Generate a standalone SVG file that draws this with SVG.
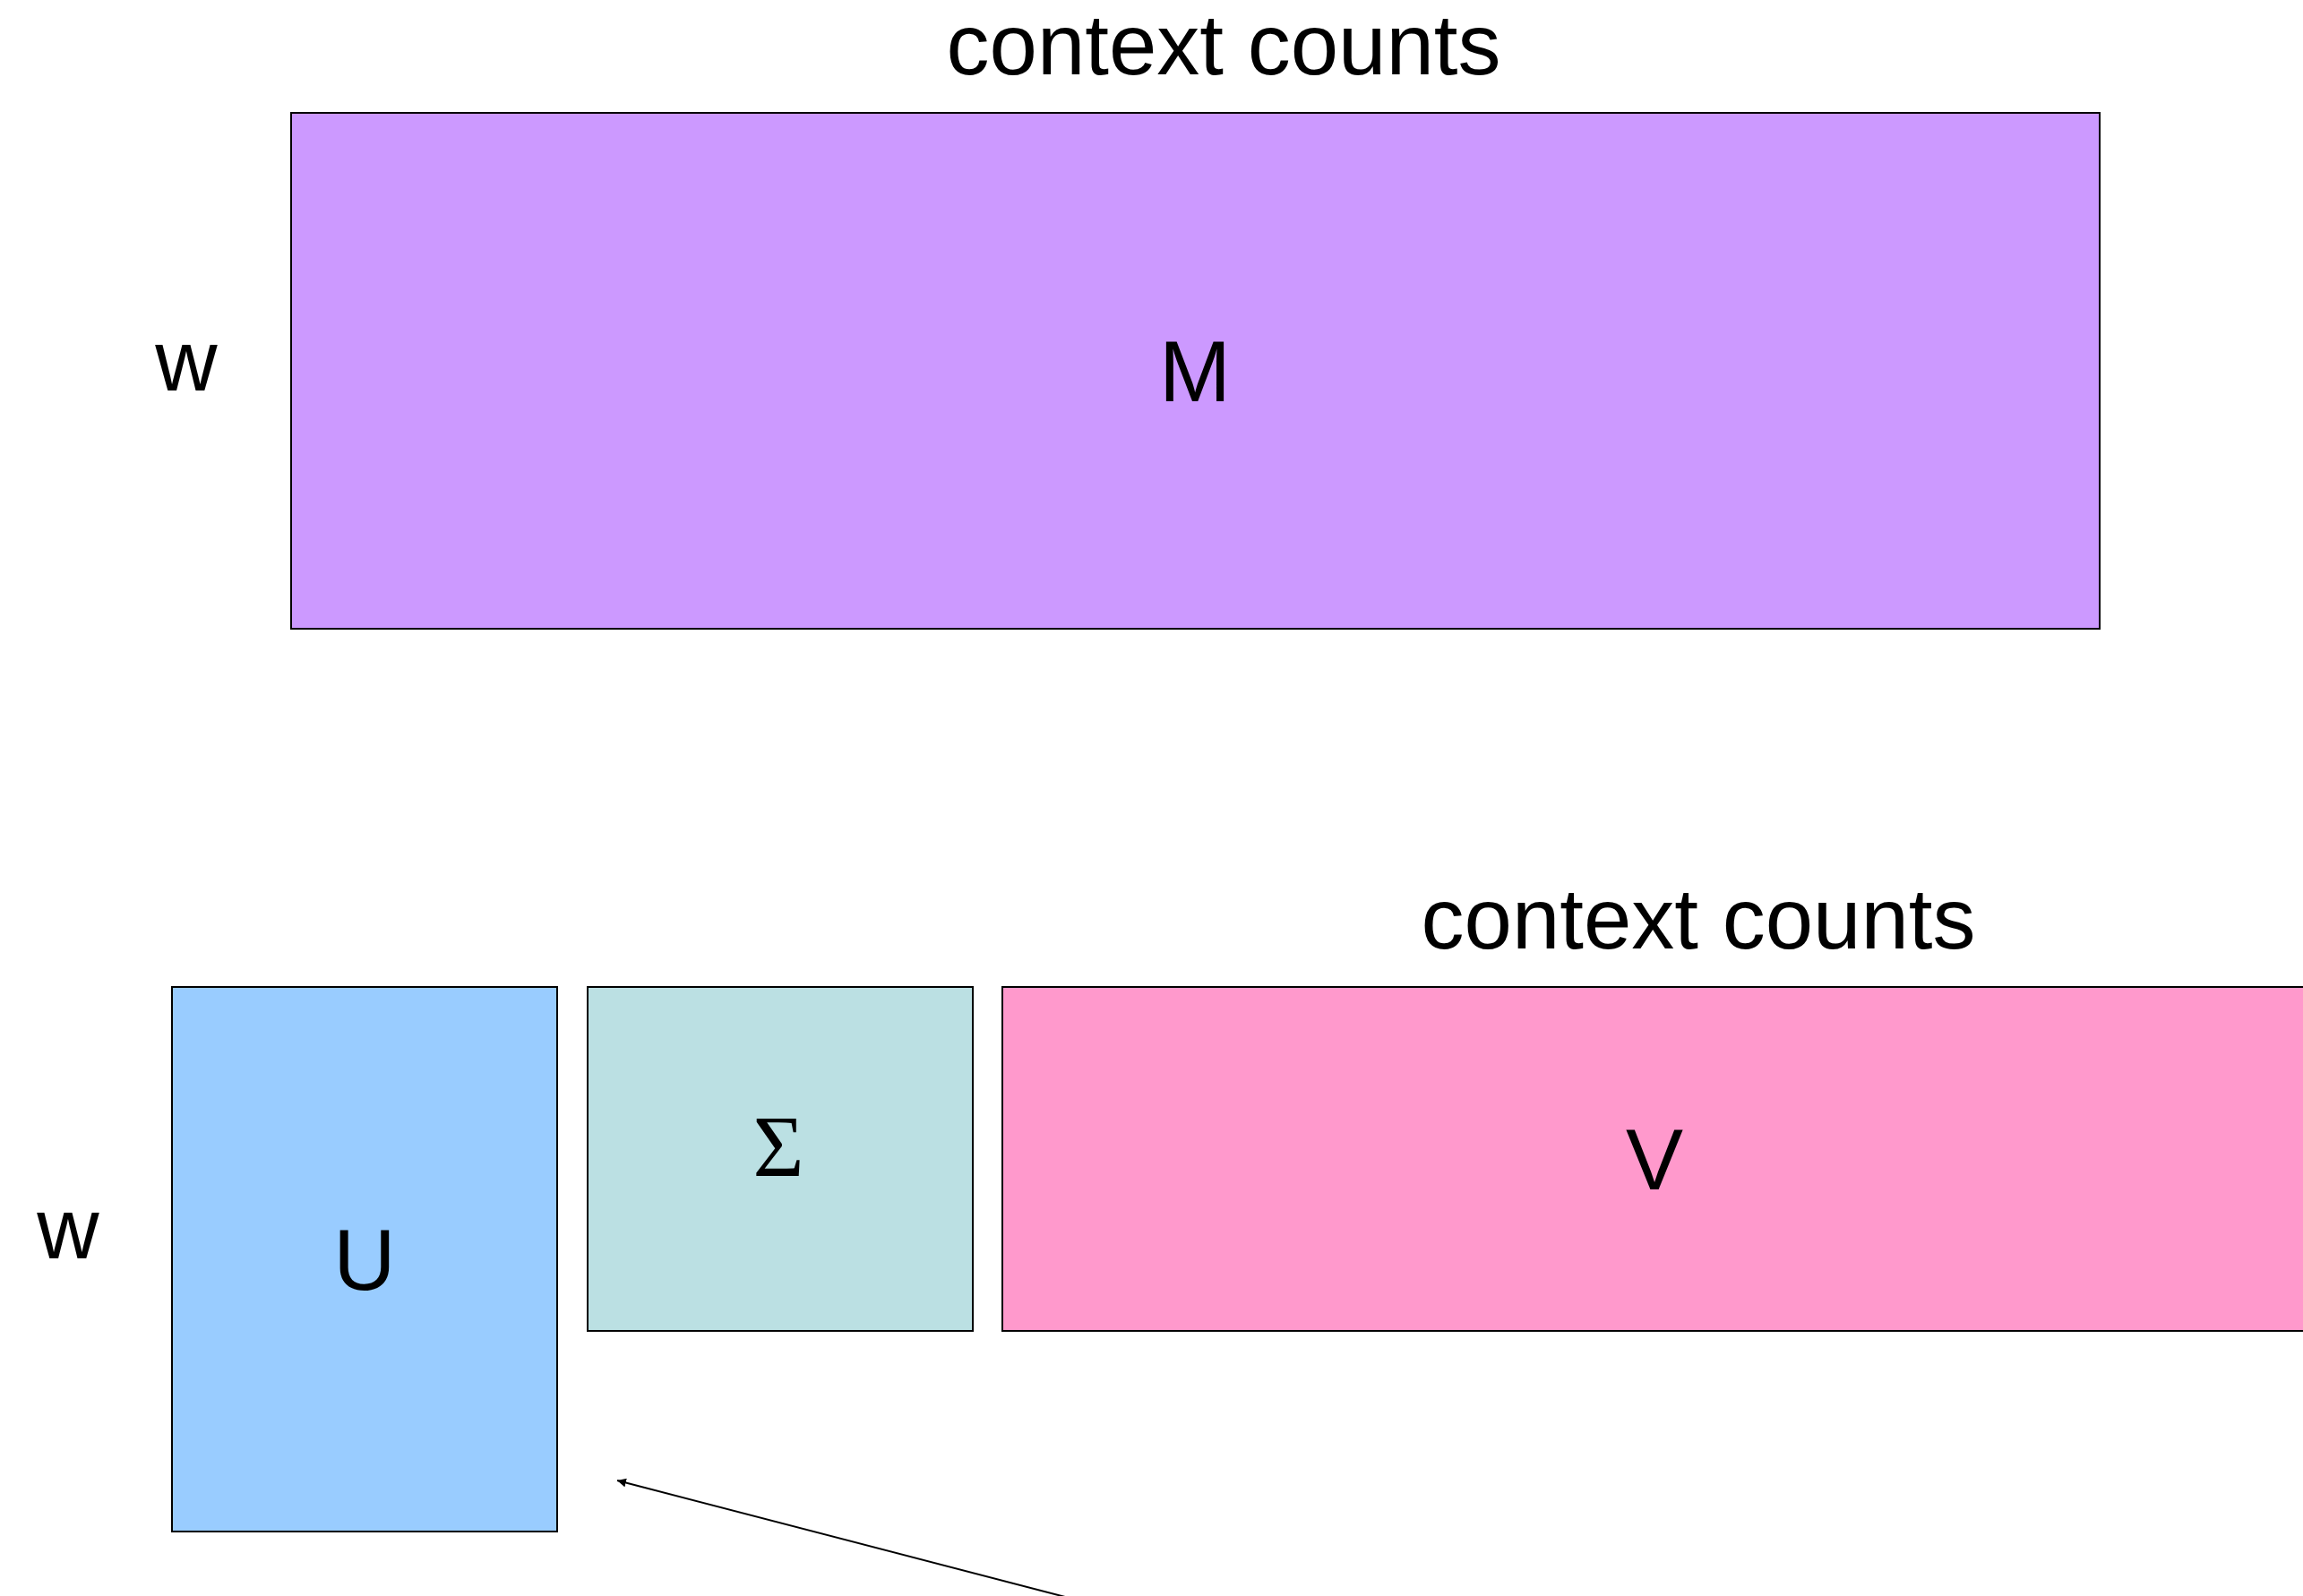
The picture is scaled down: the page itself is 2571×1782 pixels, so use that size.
<svg xmlns="http://www.w3.org/2000/svg" width="2571" height="1782" viewBox="0 0 2571 1782">
  <style>
    .box { stroke: #000000; stroke-width: 2; }
    .lbl { font-family: "Liberation Sans", Arial, sans-serif; font-size: 96px; fill: #000000; text-anchor: middle; }
    .sym { font-family: "Liberation Serif", "Times New Roman", serif; font-size: 98px; fill: #000000; text-anchor: middle; }
    .conn { stroke: #000000; stroke-width: 2; fill: none; }
  </style>
  <defs>
    <marker id="arrow" viewBox="0 0 10 10" refX="10" refY="5" markerWidth="5" markerHeight="5" orient="auto" markerUnits="strokeWidth">
      <path d="M0,0 L10,5 L0,10 z" fill="#000000"/>
    </marker>
  </defs>
  <rect x="0" y="0" width="2571" height="1782" fill="#ffffff"/>

  <!-- original matrix -->
  <g id="matrix-m">
    <rect class="box" x="325" y="126" width="2019" height="576" fill="#CC99FF"/>
    <text class="lbl" x="1334" y="448">M</text>
  </g>
  <text class="lbl" x="1366" y="83">context counts</text>
  <text class="lbl" x="208" y="436">w</text>

  <!-- factor matrices -->
  <g id="matrix-u">
    <rect class="box" x="192" y="1102" width="430" height="608" fill="#99CCFF"/>
    <text class="lbl" x="407" y="1440">U</text>
  </g>
  <g id="matrix-sigma">
    <rect class="box" x="656" y="1102" width="430" height="384" fill="#BBE0E3"/>
    <text class="sym" x="869" y="1313">Σ</text>
  </g>
  <g id="matrix-v">
    <rect class="box" x="1119" y="1102" width="1480" height="384" fill="#FF99CC"/>
    <text class="lbl" x="1847" y="1328">V</text>
  </g>
  <text class="lbl" x="1896" y="1059">context counts</text>
  <text class="lbl" x="76" y="1405">w</text>

  <g id="connectors">
    <line class="conn" x1="1216" y1="1790" x2="689" y2="1653" marker-end="url(#arrow)"/>
  </g>
</svg>
